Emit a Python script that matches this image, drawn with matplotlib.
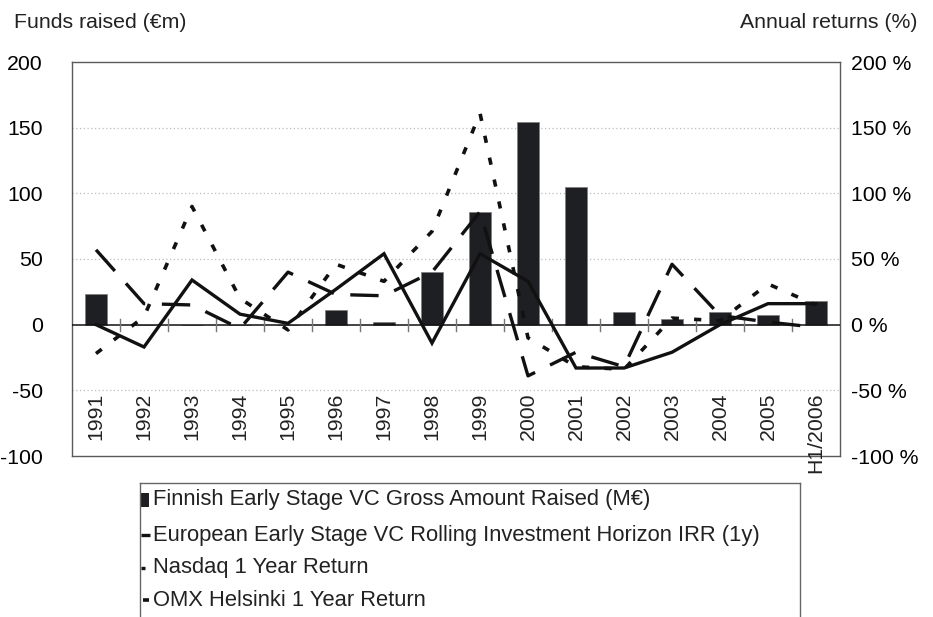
import matplotlib
matplotlib.use("Agg")
import matplotlib.pyplot as plt
from matplotlib.lines import Line2D
from matplotlib.patches import Rectangle
import numpy as np

plt.rcParams['font.family'] = ['Liberation Sans', 'DejaVu Sans']

categories = ["1991", "1992", "1993", "1994", "1995", "1996", "1997", "1998",
              "1999", "2000", "2001", "2002", "2003", "2004", "2005", "H1/2006"]
funds_raised = [23, 0, 0, 0, 0, 11, 2, 40, 86, 154, 105, 10, 4, 10, 7, 18]
euro_irr = [0, -17, 34, 8, 1, 27, 54, -14, 54, 33, -33, -33, -21, 0, 16, 16]
nasdaq = [57, 16, 15, -3, 40, 23, 22, 40, 86, -39, -21, -32, 46, 7, 2, -2]
omx = [-22, 6, 90, 20, -4, 46, 33, 71, 161, -10, -32, -34, 5, 3, 31, 15]
left_ticks = [200, 150, 100, 50, 0, -50, -100]
right_tick_labels = ["200 %", "150 %", "100 %", "50 %", "0 %", "-50 %", "-100 %"]
legend_labels = ["Finnish Early Stage VC Gross Amount Raised (M€)",
                 "European Early Stage VC Rolling Investment Horizon IRR (1y)",
                 "Nasdaq 1 Year Return",
                 "OMX Helsinki 1 Year Return"]

W, H = 933, 617
FS = 15.3
fig = plt.figure(figsize=(W / 100, H / 100), dpi=100)

def fx(x):
    return x / W

def fy(y):
    return 1 - y / H

L, R, T, B = 72, 840, 62, 456
ax = fig.add_axes([fx(L), fy(B), (R - L) / W, (B - T) / H])
x = np.arange(len(categories))

ax.set_xlim(-0.5, len(categories) - 0.5)
ax.set_ylim(-100, 200)

# gridlines
for g in [150, 100, 50, -50]:
    ax.axhline(g, color='#bdbdbd', lw=0.9, ls=(0, (1, 2)), zorder=0)

ax.bar(x, funds_raised, width=0.44, color='#1e1f22', edgecolor='#808080',
       linewidth=0.6, zorder=2)

ax.axhline(0, color='#111111', lw=1.1, zorder=3)
for b in np.arange(0.5, len(categories) - 1, 1.0):
    ax.plot([b, b], [-4.5, 4.5], color='#777777', lw=1.0, zorder=3)

ax.set_yticks(left_ticks)
ax.set_yticklabels([str(v) for v in left_ticks], fontsize=FS)
ax.tick_params(axis='y', length=0, pad=21)
ax.set_xticks([])
for s in ax.spines.values():
    s.set_color('#5a5a5a')
    s.set_linewidth(1.0)

for xi, lab in zip(x, categories):
    ax.text(xi, -51.5, lab, rotation=90, ha='center', va='top', fontsize=FS,
            color='#222222', clip_on=False, zorder=5)

ax2 = ax.twinx()
ax2.set_ylim(-100, 200)
ax2.set_yticks(left_ticks)
ax2.set_yticklabels(right_tick_labels, fontsize=FS)
ax2.tick_params(axis='y', length=0, pad=8)
for s in ax2.spines.values():
    s.set_visible(False)

lw = 2.4
ax2.plot(x, euro_irr, color='#111111', lw=lw, solid_joinstyle='miter', zorder=4)
ax2.plot(x, nasdaq, color='#111111', lw=lw, dashes=(8.5, 5), dash_capstyle='butt', zorder=4)
ax2.plot(x, omx, color='#111111', lw=2.6, dashes=(2.0, 4.2), dash_capstyle='butt', zorder=4)

# axis titles
fig.text(fx(14), fy(23), "Funds raised (€m)", fontsize=FS, ha='left', va='center', color='#222222')
fig.text(fx(917), fy(23), "Annual returns (%)", fontsize=FS, ha='right', va='center', color='#222222')

# legend box (bottom clipped by the figure edge); symbols are clipped at its left edge
box_l, box_r, box_t = 140, 800, 483
fig.add_artist(Line2D([fx(box_l), fx(box_r)], [fy(box_t), fy(box_t)], color='#666666', lw=1.0))
fig.add_artist(Line2D([fx(box_l), fx(box_l)], [fy(box_t), fy(H + 5)], color='#666666', lw=1.0))
fig.add_artist(Line2D([fx(box_r), fx(box_r)], [fy(box_t), fy(H + 5)], color='#666666', lw=1.0))

rows = [500, 535, 568, 600]
txt_x = 153
fig.add_artist(Rectangle((fx(141), fy(rows[0] + 7)), 8 / W, 14 / H,
                         facecolor='#1e1f22', edgecolor='none'))
fig.add_artist(Line2D([fx(141), fx(150)], [fy(rows[1]), fy(rows[1])], color='#111111', lw=lw,
                      solid_capstyle='butt'))
fig.add_artist(Line2D([fx(141), fx(145)], [fy(rows[2]), fy(rows[2])], color='#111111', lw=lw,
                      solid_capstyle='butt'))
fig.add_artist(Line2D([fx(143), fx(149)], [fy(rows[3]), fy(rows[3])], color='#111111', lw=2.6,
                      solid_capstyle='butt'))
for r, lab in zip(rows, legend_labels):
    fig.text(fx(txt_x), fy(r), lab, fontsize=15.8, ha='left', va='center', color='#222222')

fig.savefig("out.png", dpi=100)
